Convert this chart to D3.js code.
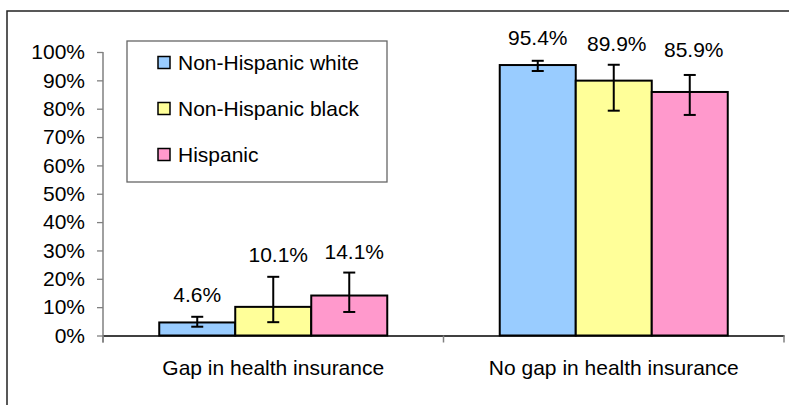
<!DOCTYPE html>
<html>
<head>
<meta charset="utf-8">
<script src="https://cdn.jsdelivr.net/npm/d3@7"></script>
<style>
  body { margin: 0; background: #fff; }
  svg { display: block; font-family: "Liberation Sans", Arial, sans-serif; }
</style>
</head>
<body>
<svg id="chart" width="789" height="405"></svg>
<script>
// ---- data ----
const categories = ["Gap in health insurance", "No gap in health insurance"];
const seriesNames = ["Non-Hispanic white", "Non-Hispanic black", "Hispanic"];
const whiteValues = [4.6, 95.4];
const blackValues = [10.1, 89.9];
const hispanicValues = [14.1, 85.9];
const whiteErrLow = [3.1, 93.3];
const whiteErrHigh = [6.6, 96.9];
const blackErrLow = [4.7, 79.3];
const blackErrHigh = [20.7, 95.5];
const hispanicErrLow = [8.3, 77.8];
const hispanicErrHigh = [22.2, 91.9];
const yTicks = [0, 10, 20, 30, 40, 50, 60, 70, 80, 90, 100];

// ---- layout / style ----
const colors = ["#99CCFF", "#FFFF99", "#FF99CC"];
// per-series label nudges (px) [category][series] -> [dx, lift above bar top]
const labelNudge = [
  [[0, 20], [5, 45], [5, 37]],
  [[0, 20], [3, 30], [4, 35]]
];

const series = [
  { name: seriesNames[0], values: whiteValues, lo: whiteErrLow, hi: whiteErrHigh, color: colors[0] },
  { name: seriesNames[1], values: blackValues, lo: blackErrLow, hi: blackErrHigh, color: colors[1] },
  { name: seriesNames[2], values: hispanicValues, lo: hispanicErrLow, hi: hispanicErrHigh, color: colors[2] }
];

const svg = d3.select("#chart");
const FS = 21;

// outer frame
svg.append("rect").attr("x", 7).attr("y", 11).attr("width", 820).attr("height", 430)
  .attr("fill", "#fff").attr("stroke", "#222").attr("stroke-width", 1.5);

const left = 103, right = 784, yBottom = 335.5, yTop = 52;

const x0 = d3.scaleBand().domain(categories).range([left, right]).padding(0);
const x1 = d3.scaleBand().domain(seriesNames).range([0, x0.bandwidth()]).paddingInner(0).paddingOuter(0.74);
const y = d3.scaleLinear().domain([0, 100]).range([yBottom, yTop]);

// y axis
const yAxis = d3.axisLeft(y).tickValues(yTicks).tickFormat(d => d + "%").tickSizeInner(6).tickSizeOuter(0).tickPadding(12);
const gy = svg.append("g").attr("transform", `translate(${left},0)`).call(yAxis);
gy.select(".domain").remove();
gy.selectAll(".tick line").attr("stroke", "#808080").attr("stroke-width", 1.3);
gy.selectAll(".tick text").attr("fill", "#000").style("font-size", FS + "px")
  .style("font-family", "'Liberation Sans', Arial, sans-serif");
svg.append("line").attr("x1", left).attr("x2", left).attr("y1", yTop).attr("y2", yBottom + 7)
  .attr("stroke", "#808080").attr("stroke-width", 1.5);

// bars
const groups = svg.append("g").selectAll("g").data(categories).join("g")
  .attr("transform", d => `translate(${x0(d)},0)`);

series.forEach((s, si) => {
  groups.append("rect")
    .attr("x", x1(s.name))
    .attr("y", (d, ci) => y(s.values[ci]))
    .attr("width", x1.bandwidth())
    .attr("height", (d, ci) => y(0) - y(s.values[ci]))
    .attr("fill", s.color).attr("stroke", "#000").attr("stroke-width", 2);
});

// x axis
const xAxis = d3.axisBottom(x0).tickSize(0).tickFormat("");
svg.append("g").attr("transform", `translate(0,${yBottom})`).call(xAxis)
  .select(".domain").attr("stroke", "#000").attr("stroke-width", 1.5);
const xTickPos = [left, x0(categories[1]), right];
svg.append("g").selectAll("line").data(xTickPos).join("line")
  .attr("x1", d => d).attr("x2", d => d).attr("y1", yBottom).attr("y2", yBottom + 7)
  .attr("stroke", "#808080").attr("stroke-width", 1.5);
svg.append("g").selectAll("text").data(categories).join("text")
  .attr("x", d => x0(d) + x0.bandwidth() / 2).attr("y", 375)
  .attr("text-anchor", "middle").style("font-size", FS + "px").text(d => d);

// error bars
series.forEach((s, si) => {
  const cx = (ci) => x1(s.name) + x1.bandwidth() / 2;
  const eb = groups.append("g").attr("stroke", "#000").attr("stroke-width", 2);
  eb.append("line").attr("x1", (d, ci) => cx(ci)).attr("x2", (d, ci) => cx(ci))
    .attr("y1", (d, ci) => y(s.lo[ci])).attr("y2", (d, ci) => y(s.hi[ci]));
  eb.append("line").attr("x1", (d, ci) => cx(ci) - 6).attr("x2", (d, ci) => cx(ci) + 6)
    .attr("y1", (d, ci) => y(s.hi[ci])).attr("y2", (d, ci) => y(s.hi[ci]));
  eb.append("line").attr("x1", (d, ci) => cx(ci) - 6).attr("x2", (d, ci) => cx(ci) + 6)
    .attr("y1", (d, ci) => y(s.lo[ci])).attr("y2", (d, ci) => y(s.lo[ci]));
});

// value labels
series.forEach((s, si) => {
  groups.append("text")
    .attr("x", (d, ci) => x1(s.name) + x1.bandwidth() / 2 + labelNudge[ci][si][0])
    .attr("y", (d, ci) => y(s.values[ci]) - labelNudge[ci][si][1])
    .attr("text-anchor", "middle").style("font-size", FS + "px")
    .text((d, ci) => s.values[ci].toFixed(1) + "%");
});

// legend
const lg = svg.append("g");
lg.append("rect").attr("x", 127).attr("y", 41).attr("width", 260).attr("height", 141)
  .attr("fill", "#fff").attr("stroke", "#666").attr("stroke-width", 1.3);
const items = lg.selectAll("g.item").data(series).join("g").attr("class", "item")
  .attr("transform", (d, i) => `translate(0,${69.5 + i * 46})`);
items.append("rect").attr("x", 158).attr("y", -13).attr("width", 12).attr("height", 12)
  .attr("fill", d => d.color).attr("stroke", "#000").attr("stroke-width", 1.5);
items.append("text").attr("x", 178).attr("y", 0).style("font-size", FS + "px").text(d => d.name);
</script>
</body>
</html>
